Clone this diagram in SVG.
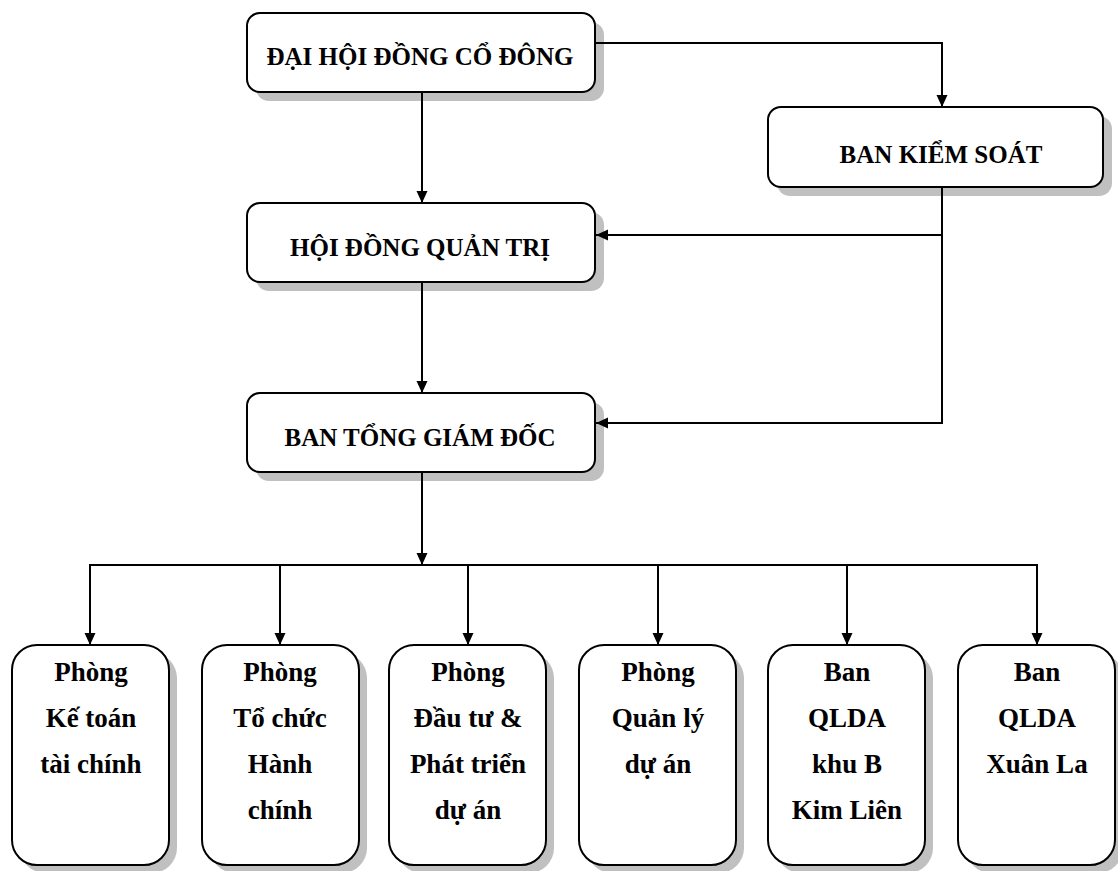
<svg xmlns="http://www.w3.org/2000/svg" width="1118" height="871" viewBox="0 0 1118 871">
<style>
.box{fill:#fff;stroke:#000;stroke-width:2}
.sh{fill:#c0c0c0;stroke:none}
.t{font-family:"Liberation Serif","Times New Roman",serif;font-weight:bold;font-size:25px;text-anchor:middle;fill:#000}
.b{font-family:"Liberation Serif","Times New Roman",serif;font-weight:bold;font-size:27px;text-anchor:middle;fill:#000}
.ln{fill:none;stroke:#000;stroke-width:2}
</style>
<defs>
<marker id="ah" markerWidth="12" markerHeight="12" refX="12" refY="6" orient="auto" markerUnits="userSpaceOnUse">
<path d="M0,0.5 L12,6 L0,11.5 Z" fill="#000"/>
</marker>
</defs>
<rect width="1118" height="871" fill="#fff"/>
<g id="dhdcd">
<rect class="sh" x="256" y="22" width="348" height="79" rx="13"/>
<rect class="box" x="247" y="13" width="348" height="79" rx="13"/>
<text class="t" x="420" y="65">ĐẠI HỘI ĐỒNG CỔ ĐÔNG</text>
</g>
<g id="bks">
<rect class="sh" x="777" y="116" width="335" height="80" rx="13"/>
<rect class="box" x="768" y="107" width="335" height="80" rx="13"/>
<text class="t" x="941" y="163">BAN KIỂM SOÁT</text>
</g>
<g id="hdqt">
<rect class="sh" x="256" y="212" width="348" height="79" rx="13"/>
<rect class="box" x="247" y="203" width="348" height="79" rx="13"/>
<text class="t" x="420" y="256">HỘI ĐỒNG QUẢN TRỊ</text>
</g>
<g id="btgd">
<rect class="sh" x="256" y="402" width="348" height="79" rx="13"/>
<rect class="box" x="247" y="393" width="348" height="79" rx="13"/>
<text class="t" x="420" y="446">BAN TỔNG GIÁM ĐỐC</text>
</g>
<g id="n1">
<rect class="sh" x="20" y="653" width="157" height="220" rx="25"/>
<rect class="box" x="12" y="645" width="157" height="220" rx="25"/>
<text class="b" x="91" y="681">Phòng</text>
<text class="b" x="91" y="727">Kế toán</text>
<text class="b" x="91" y="773">tài chính</text>
</g>
<g id="n2">
<rect class="sh" x="210" y="653" width="157" height="220" rx="25"/>
<rect class="box" x="202" y="645" width="157" height="220" rx="25"/>
<text class="b" x="280" y="681">Phòng</text>
<text class="b" x="280" y="727">Tổ chức</text>
<text class="b" x="280" y="773">Hành</text>
<text class="b" x="280" y="819">chính</text>
</g>
<g id="n3">
<rect class="sh" x="397" y="653" width="157" height="220" rx="25"/>
<rect class="box" x="389" y="645" width="157" height="220" rx="25"/>
<text class="b" x="468" y="681">Phòng</text>
<text class="b" x="468" y="727">Đầu tư &amp;</text>
<text class="b" x="468" y="773">Phát triển</text>
<text class="b" x="468" y="819">dự án</text>
</g>
<g id="n4">
<rect class="sh" x="587" y="653" width="157" height="220" rx="25"/>
<rect class="box" x="579" y="645" width="157" height="220" rx="25"/>
<text class="b" x="658" y="681">Phòng</text>
<text class="b" x="658" y="727">Quản lý</text>
<text class="b" x="658" y="773">dự án</text>
</g>
<g id="n5">
<rect class="sh" x="776" y="653" width="157" height="220" rx="25"/>
<rect class="box" x="768" y="645" width="157" height="220" rx="25"/>
<text class="b" x="847" y="681">Ban</text>
<text class="b" x="847" y="727">QLDA</text>
<text class="b" x="847" y="773">khu B</text>
<text class="b" x="847" y="819">Kim Liên</text>
</g>
<g id="n6">
<rect class="sh" x="966" y="653" width="157" height="220" rx="25"/>
<rect class="box" x="958" y="645" width="157" height="220" rx="25"/>
<text class="b" x="1037" y="681">Ban</text>
<text class="b" x="1037" y="727">QLDA</text>
<text class="b" x="1037" y="773">Xuân La</text>
</g>
<g id="connectors">
<path class="ln" d="M595,43 H942 V107" marker-end="url(#ah)"/>
<path class="ln" d="M422,92 V203" marker-end="url(#ah)"/>
<path class="ln" d="M422,282 V393" marker-end="url(#ah)"/>
<path class="ln" d="M942,187 V424"/>
<path class="ln" d="M942,235 H596" marker-end="url(#ah)"/>
<path class="ln" d="M943,423 H596" marker-end="url(#ah)"/>
<path class="ln" d="M422,472 V565" marker-end="url(#ah)"/>
<path class="ln" d="M89,565 H1038"/>
<path class="ln" d="M90,564 V645" marker-end="url(#ah)"/>
<path class="ln" d="M280,565 V645" marker-end="url(#ah)"/>
<path class="ln" d="M468,565 V645" marker-end="url(#ah)"/>
<path class="ln" d="M658,565 V645" marker-end="url(#ah)"/>
<path class="ln" d="M847,565 V645" marker-end="url(#ah)"/>
<path class="ln" d="M1037,564 V645" marker-end="url(#ah)"/>
</g>
</svg>
